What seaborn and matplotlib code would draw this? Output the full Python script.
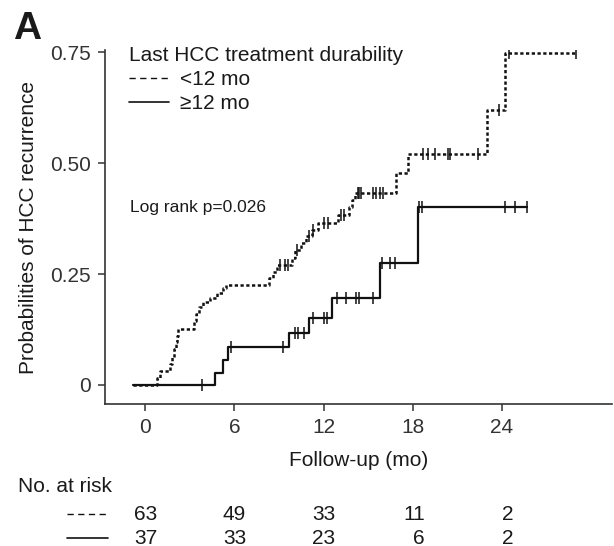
import matplotlib
matplotlib.use("Agg")
import matplotlib.pyplot as plt
import matplotlib.transforms as mtransforms
from matplotlib.lines import Line2D
import seaborn as sns
import pandas as pd

# ---------------- data ----------------
group_labels = ["<12 mo", "\u226512 mo"]

t_short = [-0.8, 0.8, 1.0, 1.7, 1.8, 1.95, 2.05, 2.15, 2.24, 3.3, 3.45, 3.6, 3.92, 4.37,
           4.82, 5.26, 5.44, 8.3, 8.6, 8.9, 9.9, 10.1, 10.5, 10.8, 11.2, 11.6, 13.0,
           13.7, 13.9, 14.1, 16.9, 17.7, 23.0, 24.2, 29.0]
p_short = [0.0, 0.016, 0.032, 0.048, 0.064, 0.080, 0.096, 0.111, 0.127, 0.143, 0.159,
           0.175, 0.186, 0.196, 0.207, 0.218, 0.225, 0.240, 0.255, 0.270, 0.287, 0.304,
           0.320, 0.335, 0.350, 0.365, 0.383, 0.400, 0.417, 0.432, 0.477, 0.520, 0.619,
           0.748, 0.748]
cens_short_t = [9.1, 9.4, 9.6, 10.2, 11.0, 11.3, 12.0, 12.3, 13.2, 13.4, 14.3, 14.4, 14.55,
                15.3, 15.5, 15.8, 16.0, 18.7, 19.0, 19.5, 20.4, 20.5, 22.4, 23.8, 24.5, 29.0]
cens_short_p = [0.270, 0.270, 0.270, 0.304, 0.335, 0.350, 0.365, 0.365, 0.383, 0.383, 0.432,
                0.432, 0.432, 0.432, 0.432, 0.432, 0.432, 0.520, 0.520, 0.520, 0.520, 0.520,
                0.520, 0.619, 0.748, 0.748]

t_long = [-0.8, 4.7, 5.25, 5.6, 9.7, 11.0, 12.6, 15.8, 18.35, 25.7]
p_long = [0.0, 0.027, 0.056, 0.086, 0.117, 0.151, 0.196, 0.275, 0.400, 0.400]
cens_long_t = [3.8, 5.8, 9.3, 10.1, 10.3, 10.7, 11.3, 12.0, 12.2, 12.9, 13.5, 14.2, 14.4,
               15.3, 15.9, 16.5, 16.8, 18.45, 18.65, 24.2, 24.9, 25.7]
cens_long_p = [0.0, 0.086, 0.086, 0.117, 0.117, 0.117, 0.151, 0.151, 0.151, 0.196, 0.196,
               0.196, 0.196, 0.196, 0.275, 0.275, 0.275, 0.400, 0.400, 0.400, 0.400, 0.400]

x_ticks = [0, 6, 12, 18, 24]
y_ticks = [0, 0.25, 0.50, 0.75]
y_tick_labels = ["0", "0.25", "0.50", "0.75"]
risk_short = [63, 49, 33, 11, 2]
risk_long = [37, 33, 23, 6, 2]

# ---------------- style ----------------
sns.set_theme(style="ticks")
plt.rcParams["font.family"] = ["Liberation Sans", "DejaVu Sans"]
plt.rcParams["axes.edgecolor"] = "#333333"
plt.rcParams["xtick.color"] = "#333333"
plt.rcParams["ytick.color"] = "#333333"
plt.rcParams["text.color"] = "#1a1a1a"
plt.rcParams["axes.labelcolor"] = "#1a1a1a"

W, H = 614, 546
fig = plt.figure(figsize=(W / 100, H / 100), dpi=100)
L, R, T, B = 105, 612, 50, 404
ax = fig.add_axes([L / W, 1 - B / H, (R - L) / W, (B - T) / H])

df_short = pd.DataFrame({"t": t_short, "p": p_short})
df_long = pd.DataFrame({"t": t_long, "p": p_long})

sns.lineplot(data=df_short, x="t", y="p", ax=ax, estimator=None, errorbar=None,
             drawstyle="steps-post", color="#111111", linewidth=1.8,
             dashes=False, linestyle=(0, (1.3, 1.0)))
sns.lineplot(data=df_long, x="t", y="p", ax=ax, estimator=None, errorbar=None,
             drawstyle="steps-post", color="#111111", linewidth=1.6)

ax.plot(cens_short_t, cens_short_p, ls="none", marker="|", ms=8, mew=1.1, color="#111111")
ax.plot(cens_long_t, cens_long_p, ls="none", marker="|", ms=8, mew=1.1, color="#111111")

ax.set_xlim(-2.7, 31.4)
ax.set_ylim(-0.043, 0.755)
ax.set_xticks(x_ticks)
ax.set_xticklabels([str(v) for v in x_ticks])
ax.set_yticks(y_ticks)
ax.set_yticklabels(y_tick_labels)
ax.tick_params(axis="both", labelsize=15, length=5, width=1.1, pad=5)
for s in ["top", "right"]:
    ax.spines[s].set_visible(False)
for s in ["left", "bottom"]:
    ax.spines[s].set_linewidth(1.2)

ax.set_xlabel("Follow-up (mo)", fontsize=15, labelpad=10)
ax.set_ylabel("Probabilities of HCC recurrence", fontsize=15)
ax.yaxis.set_label_coords(-0.132, 0.5)

ax.text(-1.0, 0.40, "Log rank p=0.026", fontsize=12.5, ha="left", va="center")

handles = [Line2D([], [], color="#111111", lw=1.0, linestyle=(0, (4.5, 3.2))),
           Line2D([], [], color="#111111", lw=1.2)]
leg = ax.legend(handles=handles, labels=group_labels, title="Last HCC treatment durability",
                loc="upper left", bbox_to_anchor=(129 / W, 1 - 46 / H),
                bbox_transform=fig.transFigure, frameon=False, fontsize=15,
                title_fontsize=15, handlelength=1.9, handletextpad=0.55,
                labelspacing=0.25, borderpad=0, borderaxespad=0, alignment="left")

fig.text(13 / W, 1 - 29 / H, "A", fontsize=28, fontweight="bold", ha="left", va="center")

# risk table
fig.text(18 / W, 1 - 487 / H, "No. at risk", fontsize=15, ha="left", va="center")
trans = mtransforms.blended_transform_factory(ax.transData, fig.transFigure)
row_y = [1 - 514 / H, 1 - 538 / H]
fig.add_artist(Line2D([67 / W, 108 / W], [row_y[0], row_y[0]], color="#111111", lw=1.0,
                      linestyle=(0, (4.5, 3.2))))
fig.add_artist(Line2D([67 / W, 108 / W], [row_y[1], row_y[1]], color="#111111", lw=1.2))
for xv, n1, n2 in zip(x_ticks, risk_short, risk_long):
    ax.text(xv + 0.8, row_y[0], str(n1), transform=trans, fontsize=15, ha="right",
            va="center", clip_on=False)
    ax.text(xv + 0.8, row_y[1], str(n2), transform=trans, fontsize=15, ha="right",
            va="center", clip_on=False)

fig.savefig("out.png", dpi=100)
